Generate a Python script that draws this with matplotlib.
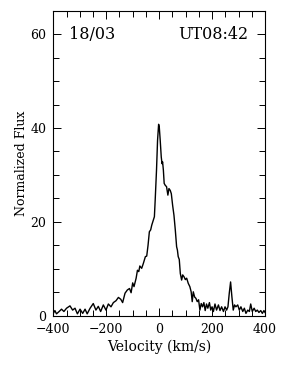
import matplotlib
matplotlib.use("Agg")
import matplotlib.pyplot as plt
from matplotlib.ticker import MultipleLocator

velocity = [-400, -394, -388, -378, -369, -360, -350, -337, -327, -318, -309, -299, -289, -280,
            -272, -261, -249, -239, -230, -221, -211, -201, -192, -182, -173, -163, -154, -145,
            -138, -129, -120, -112, -106, -100, -95, -87, -82, -77, -73, -66, -60, -52, -47, -42,
            -37, -32, -28, -22, -18, -15, -10, -6, -2, 0.5, 4, 8, 11, 13, 16, 19, 23, 28, 33, 37,
            42, 46, 51, 56, 61, 66, 69, 72, 76, 80, 85, 89, 94, 99, 104, 110, 116, 121, 125, 129,
            134, 139, 144, 149, 154, 159, 164, 169, 174, 179, 184, 190, 195, 200, 205, 211, 217,
            224, 230, 236, 243, 249, 255, 260, 265, 270, 275, 280, 285, 290, 297, 303, 309, 316,
            322, 328, 335, 341, 346, 352, 359, 365, 371, 377, 384, 390, 396, 400]
flux = [0.5, 1.1, 0.4, 0.9, 1.4, 0.9, 1.6, 2.1, 1.2, 1.6, 0.4, 1.4, 0.5, 1.4,
        0.4, 1.6, 2.6, 1.2, 2.0, 0.9, 2.3, 1.2, 2.5, 1.9, 2.8, 3.2, 3.9, 3.5,
        2.8, 4.8, 5.5, 5.8, 4.9, 7.0, 6.2, 8.0, 9.7, 9.4, 10.6, 10.1, 11.1, 12.6, 12.7, 15.0,
        17.9, 18.3, 19.3, 20.4, 21.1, 24.6, 31.0, 37.4, 40.8, 40.2, 37.4, 33.8, 32.4, 32.8, 31.0,
        28.2, 27.8, 27.5, 25.7, 27.1, 26.7, 26.0, 23.5, 21.4, 18.3, 14.7, 14.0, 12.6, 12.0, 9.0,
        7.6, 8.7, 8.3, 7.7, 8.0, 6.9, 6.2, 5.1, 3.0, 5.1, 4.0, 3.7, 3.0, 3.4, 1.2, 2.6, 1.9,
        2.8, 1.1, 2.5, 1.6, 2.8, 1.2, 1.9, 0.9, 2.5, 1.2, 2.3, 1.1, 1.9, 0.9, 1.9, 1.2, 1.9,
        4.8, 7.2, 4.0, 1.2, 2.3, 1.9, 2.3, 1.2, 1.9, 0.9, 1.6, 0.5, 1.2, 0.9, 2.5, 0.9, 1.6,
        0.9, 1.2, 0.7, 1.1, 0.5, 1.1, 0.7]

date_label = "18/03"
time_label = "UT08:42"
x_label = "Velocity (km/s)"
y_label = "Normalized Flux"

plt.rcParams['font.family'] = ['DejaVu Serif']

fig = plt.figure(figsize=(3.0, 3.65), dpi=100)
ax = fig.add_axes([0.1777, 0.135, 0.7056, 0.8356])
ax.plot(velocity, flux, color='black', linewidth=1.0)
ax.set_xlim(-400, 400)
ax.set_ylim(0, 65)
ax.xaxis.set_major_locator(MultipleLocator(200))
ax.xaxis.set_minor_locator(MultipleLocator(50))
ax.yaxis.set_major_locator(MultipleLocator(20))
ax.yaxis.set_minor_locator(MultipleLocator(5))
ax.tick_params(which='both', direction='in', top=True, right=True, labelsize=9, width=0.7)
ax.tick_params(which='major', length=6, pad=5)
ax.tick_params(which='minor', length=4)
for s in ax.spines.values():
    s.set_linewidth(0.8)
ax.set_xlabel(x_label, fontsize=10, labelpad=3)
ax.set_ylabel(y_label, fontsize=9, labelpad=2)
ax.text(-341, 60, date_label, fontsize=11.5, va='center', ha='left')
ax.text(339, 60, time_label, fontsize=11.5, va='center', ha='right')

fig.savefig("out.png", dpi=100)
